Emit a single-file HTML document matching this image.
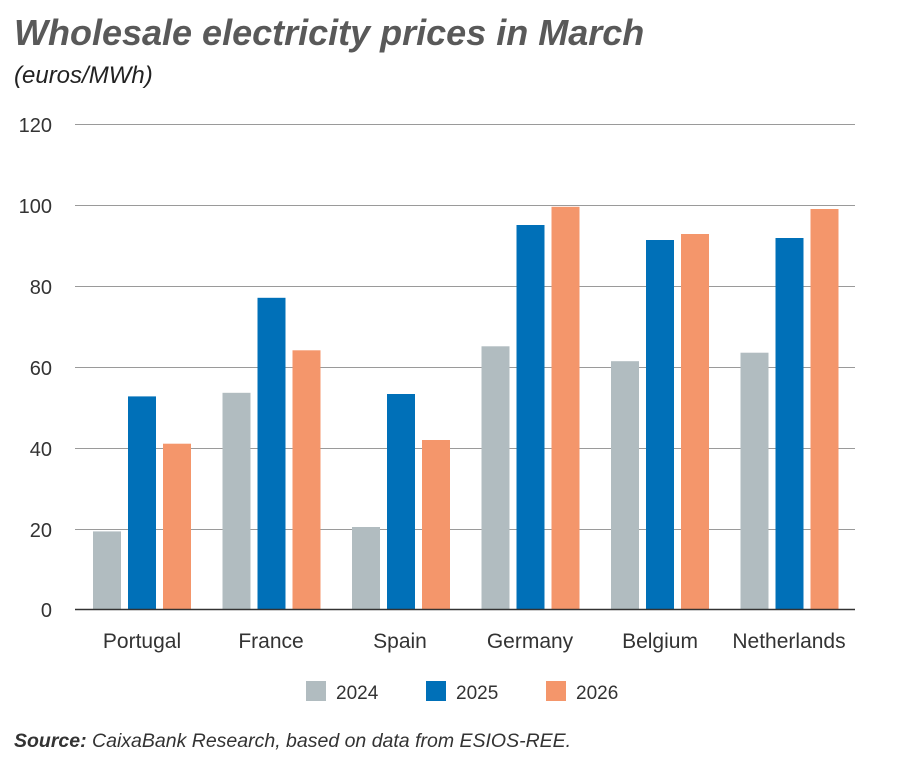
<!DOCTYPE html>
<html><head><meta charset="utf-8"><style>
body{margin:0;background:#fff;}
svg{display:block;font-family:"Liberation Sans",sans-serif;}
</style></head><body>
<svg width="900" height="758" viewBox="0 0 900 758" xmlns="http://www.w3.org/2000/svg">
<text x="14" y="45" font-size="36" font-weight="bold" font-style="italic" fill="#595959">Wholesale electricity prices in March</text>
<text x="14" y="83" font-size="24" font-style="italic" fill="#222">(euros/MWh)</text>
<g stroke="#9a9a9a" stroke-width="1">
<line x1="75" y1="124.5" x2="855" y2="124.5"/>
<line x1="75" y1="205.5" x2="855" y2="205.5"/>
<line x1="75" y1="286.5" x2="855" y2="286.5"/>
<line x1="75" y1="367.5" x2="855" y2="367.5"/>
<line x1="75" y1="448.5" x2="855" y2="448.5"/>
<line x1="75" y1="529.5" x2="855" y2="529.5"/>
</g>
<g font-size="20" fill="#333" text-anchor="end">
<text x="52" y="132">120</text><text x="52" y="213">100</text><text x="52" y="294">80</text>
<text x="52" y="375">60</text><text x="52" y="456">40</text><text x="52" y="537">20</text><text x="52" y="617">0</text>
</g>
<g font-size="21" fill="#333" text-anchor="middle">
<text x="142" y="648">Portugal</text><text x="271" y="648">France</text><text x="400" y="648">Spain</text>
<text x="530" y="648">Germany</text><text x="660" y="648">Belgium</text><text x="789" y="648">Netherlands</text>
</g>
<rect x="306" y="681" width="20" height="20" fill="#b1bcc0"/><text x="336" y="699" font-size="19" fill="#333">2024</text>
<rect x="426" y="681" width="20" height="20" fill="#0070b8"/><text x="456" y="699" font-size="19" fill="#333">2025</text>
<rect x="546" y="681" width="20" height="20" fill="#f4966b"/><text x="576" y="699" font-size="19" fill="#333">2026</text>
<text x="14" y="747" font-size="19.5" font-style="italic" fill="#333"><tspan font-weight="bold">Source:</tspan> CaixaBank Research, based on data from ESIOS-REE.</text>
<g>
<rect x="93" y="531.4" width="28" height="77.6" fill="#b1bcc0"/>
<rect x="128" y="396.4" width="28" height="212.6" fill="#0070b8"/>
<rect x="163" y="443.7" width="28" height="165.3" fill="#f4966b"/>
<rect x="222.5" y="392.8" width="28" height="216.2" fill="#b1bcc0"/>
<rect x="257.5" y="297.8" width="28" height="311.2" fill="#0070b8"/>
<rect x="292.5" y="350.3" width="28" height="258.7" fill="#f4966b"/>
<rect x="352" y="527" width="28" height="82" fill="#b1bcc0"/>
<rect x="387" y="394" width="28" height="215" fill="#0070b8"/>
<rect x="422" y="440" width="28" height="169" fill="#f4966b"/>
<rect x="481.5" y="346.3" width="28" height="262.7" fill="#b1bcc0"/>
<rect x="516.5" y="225" width="28" height="384" fill="#0070b8"/>
<rect x="551.5" y="206.8" width="28" height="402.2" fill="#f4966b"/>
<rect x="611" y="361.2" width="28" height="247.8" fill="#b1bcc0"/>
<rect x="646" y="240" width="28" height="369" fill="#0070b8"/>
<rect x="681" y="234" width="28" height="375" fill="#f4966b"/>
<rect x="740.5" y="352.7" width="28" height="256.3" fill="#b1bcc0"/>
<rect x="775.5" y="238" width="28" height="371" fill="#0070b8"/>
<rect x="810.5" y="209" width="28" height="400" fill="#f4966b"/>
</g>
<line x1="75" y1="609.5" x2="855" y2="609.5" stroke="#333" stroke-width="1.5"/>
</svg>
</body></html>
